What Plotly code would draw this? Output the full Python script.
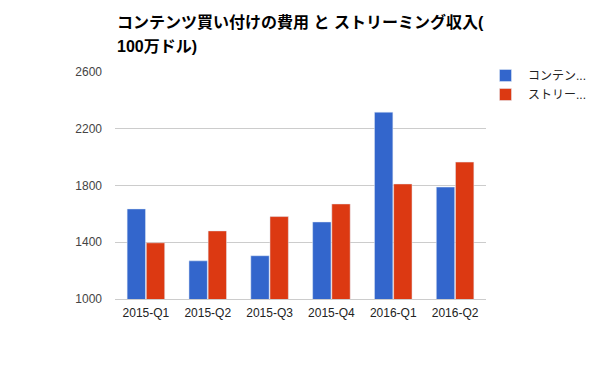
import plotly.graph_objects as go

categories = ["2015-Q1", "2015-Q2", "2015-Q3", "2015-Q4", "2016-Q1", "2016-Q2"]
content_cost = [1635, 1269, 1305, 1543, 2317, 1789]
streaming_revenue = [1396, 1480, 1581, 1670, 1811, 1965]
series_names = ["コンテン...", "ストリー..."]
full_names = ["コンテンツ買い付けの費用", "ストリーミング収入"]
y_ticks = [1000, 1400, 1800, 2200, 2600]
title_lines = ["コンテンツ買い付けの費用 と ストリーミング収入(", "100万ドル)"]

font_family = "Liberation Sans, Arial, Noto Sans CJK JP, sans-serif"

fig = go.Figure()
fig.add_trace(go.Bar(x=categories, y=content_cost, name=series_names[0],
                     marker_color="#3366cc", hovertext=full_names[0]))
fig.add_trace(go.Bar(x=categories, y=streaming_revenue, name=series_names[1],
                     marker_color="#dc3912", hovertext=full_names[1]))

plot_h = 371 - 72 - 72
for i, line in enumerate(title_lines):
    center_px = 22 + 24 * i
    fig.add_annotation(text="<b>" + line + "</b>", xref="paper", yref="paper",
                       x=0, y=(371 - 72 - center_px) / plot_h,
                       xanchor="left", yanchor="middle", showarrow=False,
                       font=dict(size=16, color="#000000", family=font_family))

fig.update_layout(
    width=600, height=371,
    margin=dict(l=115, r=114, t=72, b=72, autoexpand=False),
    paper_bgcolor="white", plot_bgcolor="white",
    font=dict(family=font_family, size=12, color="#222222"),
    barmode="group", bargap=0.38, bargroupgap=0.04,
    legend=dict(xref="container", yref="container", x=0.805, xanchor="left",
                y=(371 - 61) / 371, yanchor="top", itemwidth=35,
                font=dict(size=12, color="#222222"), tracegroupgap=0,
                bgcolor="rgba(0,0,0,0)"),
    showlegend=True,
)
fig.update_yaxes(range=[1000, 2600], tickvals=y_ticks, showgrid=True,
                 gridcolor="#cccccc", zeroline=False, ticks="", showline=False,
                 tickfont=dict(size=12, color="#444444"), ticklabelstandoff=12)
fig.update_xaxes(showline=True, linecolor="#cccccc", ticks="",
                 tickfont=dict(size=12, color="#222222"), ticklabelstandoff=3)

fig.write_html("out.html", config={"displayModeBar": False},
               post_script="document.body.style.margin='0';")
